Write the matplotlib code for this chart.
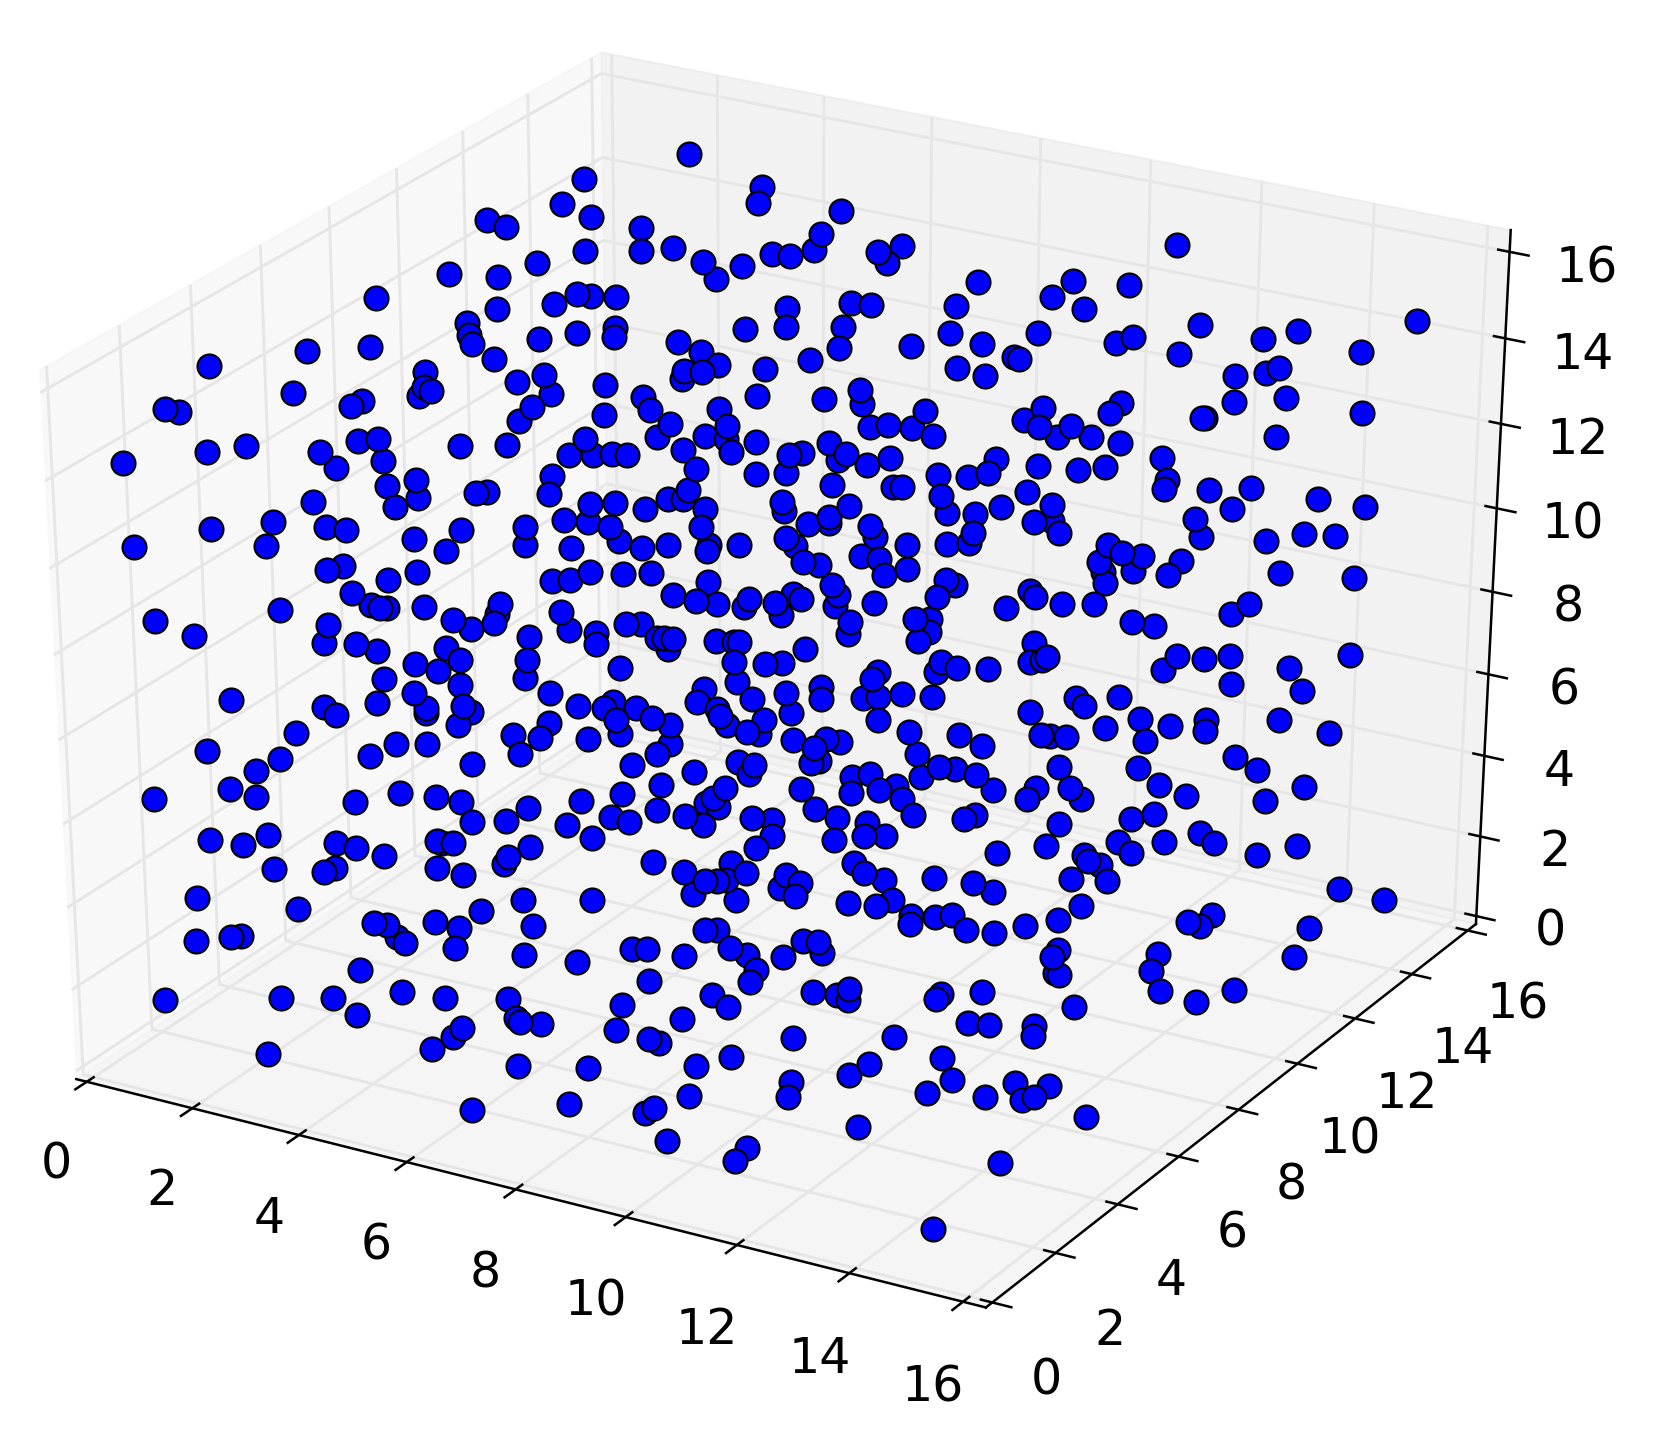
import matplotlib
matplotlib.use("Agg")
import matplotlib.pyplot as plt

x = [4.11,
     5.28,5.30,2.79,2.61,3.08,6.48,1.66,1.97,3.82,6.33,
     4.36,3.18,3.94,2.58,4.85,5.76,6.02,6.31,7.20,7.50,7.38,5.41,5.12,11.27,
     1.43,2.11,8.74,10.03,10.82,9.83,
     0.55,3.29,3.49,3.83,3.02,2.27,6.24,7.09,7.39,8.55,10.33,14.96,
     1.93,6.32,7.10,5.77,3.99,4.02,3.48,3.00,2.01,2.10,12.00,13.37,8.61,9.81,12.93,11.14,10.94,4.92,9.10,7.16,8.14,5.28,0.72,-0.13,11.85,14.35,
     2.48,6.83,5.59,-1.40,8.89,9.62,9.69,6.26,13.31,13.15,12.75,1.60,3.26,5.15,5.41,9.31,5.16,
     2.91,4.14,1.67,1.65,1.79,-0.11,7.67,3.44,6.28,7.22,4.73,13.56,12.87,0.89,0.76,4.89,7.77,5.83,11.32,11.22,10.27,14.68,-1.78,-1.57,8.67,
     3.26,4.28,3.14,5.24,10.07,10.75,12.55,12.51,8.00,8.24,8.57,10.32,10.61,11.08,8.91,11.51,13.61,
     5.78,6.03,6.08,6.51,5.12,4.14,1.05,1.30,2.47,3.11,-0.48,-0.98,0.57,7.52,-2.08,
     4.01,4.34,4.60,4.80,5.55,6.21,7.03,7.20,7.81,7.72,8.15,8.43,12.16,9.89,1.48,0.87,5.82,7.08,6.68,9.18,9.60,9.85,10.50,11.07,11.43,12.35,3.89,
     1.67,2.03,7.78,8.62,8.75,10.48,12.35,12.97,13.54,2.15,2.93,3.07,3.93,5.82,9.33,14.51,0.73,1.89,4.55,4.88,5.59,5.80,7.18,7.25,5.33,6.15,9.49,9.88,10.21,10.90,13.39,15.20,10.98,12.93,
     4.27,4.61,4.95,6.20,0.28,1.05,1.33,-0.53,2.92,3.78,7.64,7.90,8.12,8.50,7.93,10.73,11.14,14.51,14.94,9.96,14.02,13.10,7.41,8.63,6.39,
     -1.49,0.32,2.32,2.82,3.87,4.51,5.13,5.48,5.83,6.40,6.80,7.58,9.11,9.65,9.95,11.87,12.10,12.39,11.83,12.95,8.53,8.80,
     1.28,1.48,2.52,5.36,5.75,7.77,8.00,9.23,8.95,12.35,12.85,14.37,15.42,4.43,4.67,4.90,2.17,6.57,8.29,9.83,9.97,12.02,11.03,11.94,
     1.74,6.16,7.23,7.80,7.93,6.51,7.60,8.42,6.81,8.96,9.79,11.14,11.54,10.79,11.98,14.11,7.20,2.06,2.20,2.30,2.80,3.83,0.84,-0.82,4.71,7.75,8.44,13.91,
     3.27,3.84,3.85,3.55,1.58,5.66,5.87,4.91,8.73,9.60,9.80,12.60,12.92,4.40,5.30,-0.21,6.16,6.25,6.38,8.76,9.86,9.76,1.61,2.06,2.38,3.31,5.35,6.98,7.23,7.31,6.36,8.25,11.35,13.39,13.77,14.12,15.76,
     4.49,2.97,3.57,3.32,5.81,7.34,7.78,8.00,10.43,10.86,11.40,11.55,11.62,13.27,14.99,10.18,10.17,9.37,9.32,4.56,2.62,3.70,7.49,8.66,14.27,7.07,15.28,
     3.11,4.97,8.22,9.29,9.50,9.81,10.23,8.73,7.04,12.22,12.37,12.80,2.65,3.35,3.85,0.64,1.94,5.43,5.79,5.88,6.23,7.78,11.66,2.15,3.38,3.98,7.36,8.38,13.20,14.12,15.11,9.62,
     6.51,7.43,8.06,7.57,6.78,6.02,3.88,13.66,14.16,12.78,15.88,5.12,4.69,5.07,1.69,6.15,5.73,7.89,8.06,8.56,9.00,9.20,8.89,10.11,10.81,11.93,12.05,12.28,13.39,3.13,3.56,0.57,1.60,2.83,4.88,6.76,6.89,11.19,10.33,
     4.27,6.47,7.36,7.90,8.15,8.12,1.33,9.02,9.55,9.78,8.92,10.69,10.92,11.25,12.34,13.43,14.71,15.08,10.50,
     1.08,1.47,3.43,3.94,4.31,6.98,7.87,8.91,9.63,9.99,10.20,10.36,11.55,12.14,12.07,12.61,12.81,13.81,14.23,15.35,15.80,0.09,2.86,5.96,6.49,
     5.26,5.03,7.75,7.68,7.86,7.05,9.21,8.39,8.67,9.56,9.99,10.59,11.44,11.31,13.89,13.60,4.57,5.89,6.45,6.73,7.47,7.76,12.64,1.83,8.76,14.61,14.86,10.31,10.02,9.63,
     1.06,1.54,2.81,3.11,3.53,4.19,4.27,4.42,6.30,8.61,12.57,13.53,14.16,16.02,15.52,13.78,5.49,5.25,5.22,11.94,13.14,13.23,13.41,7.27,10.03,
     2.09,2.80,2.92,4.32,4.72,8.33,8.60,7.74,10.22,10.52,11.20,11.76,12.07,9.16,9.38,9.13,9.38,8.07,8.36,8.24,7.97,8.59,13.08,13.59,1.18,16.81,17.49,6.61,5.67,
     2.62,5.15,10.15,10.55,10.74,11.08,11.41,11.64,11.10,13.36,13.12,12.69,15.20,14.91,15.10,11.91,12.31,4.58,3.75,3.93,4.93,5.95,16.60,8.32,8.49,
     1.85,1.98,1.40,4.13,4.27,4.98,8.76,7.41,7.62,9.72,9.94,10.05,13.27,13.22,14.66,9.03,5.97,8.17,9.53,16.55,
     6.73,3.80,9.23,9.21,13.35,13.42,14.66,14.89,7.82,15.89,15.44,
     1.27,2.86,3.57,4.49,5.10,5.97,7.57,8.76,9.03,10.13,10.47,10.60,10.64,11.89,11.85,12.44,13.79,
     3.98,6.19,6.26,6.56,8.47,12.42,12.72,13.33,13.37,7.62,5.49,5.42,8.12,8.28,10.09,11.46,
     2.97,5.20,9.33,12.23,6.46,7.42,8.90,11.27,11.05,10.29,12.49,13.37,13.85,
     8.96,10.33,12.21,13.03,13.55,13.70,7.36,8.54,8.44,6.05,14.52,11.44,8.89,10.02,9.92,13.58,13.00]

y = [11.85,
     12.13,11.96,10.81,10.41,10.52,12.53,9.69,9.77,10.82,12.18,
     10.89,10.18,10.61,9.70,11.00,11.62,11.74,11.98,12.46,12.70,12.44,11.28,10.96,14.87,
     8.91,9.26,12.97,13.72,14.13,13.42,
     8.12,9.73,9.82,10.01,9.46,8.98,11.25,11.79,11.93,12.59,13.57,16.06,
     8.62,11.07,11.52,10.74,9.73,9.64,9.39,9.04,8.52,8.46,14.33,15.04,12.31,12.99,14.70,13.70,13.51,10.09,12.45,11.30,11.89,10.19,7.64,7.11,13.91,15.36,
     8.50,10.97,10.20,6.21,12.05,12.59,12.61,10.54,14.56,14.41,14.15,7.85,8.75,9.88,10.01,12.19,9.80,
     8.48,9.14,7.71,7.59,7.73,6.63,11.09,8.64,10.23,10.73,9.34,14.36,13.91,7.11,6.96,9.27,10.99,9.82,13.02,12.85,12.36,14.82,5.48,5.57,11.41,
     8.37,8.87,8.15,9.31,12.11,12.42,13.55,13.52,10.84,11.00,11.16,12.17,12.22,12.49,11.26,12.65,13.93,
     9.48,9.73,9.61,9.82,9.09,8.51,6.71,6.88,7.47,7.84,5.79,5.43,6.31,10.38,4.68,
     8.24,8.43,8.58,8.69,9.18,9.53,9.96,10.08,10.41,10.30,10.49,10.72,12.85,11.54,6.73,6.30,9.11,9.78,9.53,10.95,11.17,11.35,11.81,12.08,12.33,12.70,7.92,
     6.54,6.82,10.03,10.49,10.56,11.49,12.59,12.93,13.28,6.68,7.17,7.27,7.73,8.86,10.78,13.70,5.82,6.42,7.97,8.17,8.63,8.75,9.49,9.43,8.35,8.82,10.68,10.89,11.16,11.57,12.94,14.00,11.44,12.56,
     7.62,7.79,7.92,8.63,5.33,5.70,5.82,4.78,6.73,7.26,9.50,9.72,9.97,9.96,9.67,11.28,11.38,13.29,13.51,10.70,12.92,12.45,9.20,9.91,8.54,
     4.02,5.06,6.28,6.43,7.10,7.43,7.87,7.99,8.22,8.46,8.77,9.20,10.09,10.41,10.59,11.65,11.69,11.82,11.43,12.09,9.63,9.74,
     5.33,5.49,6.01,7.60,7.83,9.12,9.22,9.87,9.64,11.62,11.86,12.75,13.29,6.99,7.14,7.36,5.72,8.20,9.14,10.08,10.11,11.30,10.64,11.38,
     5.31,7.81,8.37,8.76,8.77,7.93,8.54,9.10,8.08,9.31,9.85,10.63,10.77,10.30,11.02,12.23,8.26,5.36,5.40,5.46,5.76,6.37,4.60,3.53,6.79,8.48,8.99,12.01,
     5.86,6.27,6.16,5.93,4.84,7.18,7.31,6.69,8.96,9.49,9.61,11.15,11.30,6.31,6.87,3.70,7.31,7.36,7.42,8.83,9.49,9.32,4.65,4.89,5.00,5.57,6.77,7.74,7.87,7.91,7.29,8.37,10.21,11.21,11.40,11.63,12.58,
     6.09,5.18,5.57,5.29,6.74,7.69,7.92,8.06,9.38,9.61,10.01,10.12,10.18,10.98,11.98,9.31,9.19,8.73,8.61,5.92,4.80,5.34,7.54,8.15,11.38,7.22,11.87,
     4.91,5.98,7.82,8.38,8.51,8.72,8.93,8.05,7.05,10.04,10.04,10.39,4.54,4.87,5.18,3.42,4.09,6.08,6.26,6.39,6.51,7.51,9.56,4.11,4.83,5.19,7.14,7.69,10.36,10.88,11.44,8.30,
     6.55,7.10,7.41,7.08,6.63,6.25,4.97,10.53,10.76,10.00,11.71,5.71,5.32,5.50,3.63,6.16,5.87,7.17,7.25,7.46,7.72,7.81,7.55,8.43,8.81,9.45,9.51,9.62,10.20,4.32,4.56,2.77,3.28,4.01,5.19,6.26,6.47,8.88,8.31,
     4.73,5.98,6.41,6.84,6.94,6.82,2.99,7.48,7.60,7.76,7.40,8.36,8.47,8.58,9.30,9.91,10.77,10.82,8.13,
     2.63,2.76,3.91,4.16,4.31,6.03,6.50,7.09,7.44,7.69,7.86,7.79,8.58,8.94,8.77,9.20,9.19,9.92,10.03,10.61,11.04,1.94,3.49,5.27,5.65,
     4.79,4.50,6.32,6.22,6.28,5.78,7.02,6.45,6.59,7.12,7.30,7.74,8.22,8.09,9.63,9.40,4.22,4.94,5.35,5.45,5.94,6.01,8.80,2.51,6.45,9.82,9.85,7.33,7.16,6.89,
     2.01,2.23,2.98,3.09,3.23,3.79,3.81,3.89,5.02,6.21,8.50,9.10,9.46,10.46,10.07,9.10,4.45,4.19,4.10,8.05,8.72,8.69,8.76,5.28,6.85,
     2.26,2.62,2.74,3.54,3.68,5.88,5.91,5.44,6.83,6.93,7.34,7.60,7.68,6.21,6.25,6.05,6.09,5.51,5.70,5.61,5.31,5.60,8.40,8.66,1.40,10.41,10.67,4.47,3.93,
     2.09,3.50,6.44,6.63,6.81,6.82,7.00,7.15,6.74,8.24,7.94,7.62,9.19,8.93,8.99,7.13,7.32,3.05,2.56,2.64,3.18,3.78,9.83,5.09,5.18,
     1.32,1.40,1.01,2.62,2.62,2.97,5.12,4.35,4.47,5.76,5.87,5.80,7.68,7.56,8.42,5.20,3.46,4.69,5.46,9.45,
     3.80,2.04,5.13,4.97,7.45,7.46,8.21,8.10,4.20,8.68,8.29,
     0.24,1.17,1.58,2.17,2.45,2.93,3.77,4.57,4.58,5.39,5.55,5.69,5.59,6.37,6.29,6.70,7.29,
     1.61,2.83,2.83,2.98,4.12,6.32,6.46,6.80,6.71,3.50,2.32,2.17,3.69,3.73,4.83,5.62,
     0.56,1.89,4.16,5.81,2.41,2.95,3.81,5.18,4.92,4.42,5.69,6.16,6.39,
     3.48,4.25,5.37,5.79,6.05,6.17,2.48,3.10,2.99,1.66,6.41,4.54,2.92,3.48,3.27,5.33,4.22]

z = [17.11,
     16.50,16.23,16.65,16.20,15.97,16.08,15.91,15.78,15.78,15.68,
     15.41,15.36,15.36,15.15,15.16,15.32,15.28,15.39,15.36,15.45,15.16,15.09,14.86,15.49,
     14.95,14.90,14.82,14.84,14.78,14.55,
     14.51,14.59,14.55,14.55,14.42,14.32,14.34,14.44,14.40,14.38,14.34,14.13,
     14.07,14.00,14.00,13.98,13.98,13.83,13.90,13.79,13.85,13.69,14.06,13.94,13.90,13.90,13.81,13.85,13.73,13.73,13.71,13.64,13.67,13.56,13.64,13.56,13.54,13.58,
     13.43,13.43,13.33,13.31,13.29,13.48,13.45,13.27,13.29,13.20,13.14,13.20,13.14,13.22,13.20,13.14,13.08,
     13.03,12.97,12.93,12.76,12.87,12.81,12.89,12.81,12.78,12.72,12.76,12.76,12.68,12.68,12.59,12.53,12.64,12.55,12.66,12.49,12.57,12.49,12.53,12.47,12.51,
     12.57,12.43,12.32,12.28,12.36,12.24,12.39,12.39,12.22,12.26,12.20,12.24,12.05,12.05,12.07,11.94,12.05,
     12.07,12.24,12.01,11.96,12.05,12.01,11.96,12.01,11.88,11.90,11.88,11.76,11.76,11.94,11.57,
     11.71,11.71,11.73,11.73,11.82,11.78,11.73,11.76,11.75,11.63,11.55,11.67,11.67,11.65,11.61,11.48,11.48,11.40,11.38,11.38,11.34,11.40,11.53,11.46,11.52,11.29,11.34,
     11.15,11.27,11.19,11.15,11.15,11.08,11.13,11.12,11.15,10.94,11.04,11.06,11.02,11.10,11.00,10.96,10.87,10.79,10.85,10.87,10.94,10.94,10.89,10.73,10.75,10.75,10.69,10.68,10.81,10.83,10.77,10.81,10.56,10.60,
     10.56,10.52,10.43,10.43,10.52,10.43,10.37,10.39,10.37,10.43,10.50,10.62,10.81,10.47,10.50,10.54,10.35,10.33,10.29,10.33,10.20,10.27,10.25,10.27,10.12,
     10.06,10.08,10.22,10.01,10.10,10.06,10.18,10.06,10.12,10.01,10.12,10.10,10.12,10.14,10.16,10.12,9.99,9.93,9.82,9.85,9.93,9.87,
     9.66,9.72,9.63,9.59,9.61,9.82,9.76,9.68,9.59,9.66,9.59,9.63,9.55,9.47,9.49,9.63,9.49,9.45,9.40,9.49,9.41,9.45,9.30,9.64,
     9.24,9.22,9.15,9.24,9.15,9.11,9.09,9.22,9.07,9.09,9.19,9.20,9.07,9.00,9.07,9.07,9.00,9.03,8.98,8.98,9.00,9.05,8.94,8.75,8.92,8.86,9.03,8.90,
     8.77,8.88,8.73,8.61,8.67,8.71,8.71,8.59,8.75,8.80,8.80,8.75,8.69,8.46,8.54,8.48,8.46,8.46,8.44,8.52,8.57,8.40,8.35,8.33,8.21,8.27,8.35,8.40,8.38,8.38,8.25,8.25,8.38,8.14,8.10,8.14,8.17,
     8.06,7.98,8.06,7.85,7.91,8.02,8.00,8.02,7.93,7.91,8.04,8.08,8.12,7.89,7.94,8.04,7.85,7.85,7.72,7.73,7.72,7.60,7.66,7.58,7.64,7.54,7.52,
     7.47,7.47,7.47,7.39,7.41,7.47,7.41,7.37,7.31,7.39,7.26,7.41,7.29,7.20,7.24,7.33,7.22,7.24,7.20,7.31,7.20,7.37,7.14,7.07,7.10,7.12,7.18,7.12,7.03,7.01,7.01,6.99,
     7.03,7.07,6.99,6.91,6.91,6.99,6.89,6.89,6.82,6.86,6.78,6.93,6.72,6.66,6.76,6.74,6.65,6.78,6.74,6.63,6.65,6.61,6.49,6.78,6.74,6.74,6.72,6.70,6.63,6.55,6.55,6.42,6.28,6.34,6.38,6.38,6.57,6.53,6.40,
     6.19,6.19,6.07,6.24,6.19,6.03,6.07,6.26,5.98,6.03,6.23,6.17,6.13,6.02,6.17,6.15,6.34,6.11,5.98,
     5.75,5.61,5.67,5.61,5.52,5.82,5.77,5.77,5.69,5.75,5.82,5.58,5.75,5.79,5.60,5.79,5.58,5.84,5.65,5.56,5.82,5.56,5.52,5.54,5.67,
     5.42,5.17,5.60,5.50,5.44,5.38,5.40,5.25,5.21,5.25,5.16,5.31,5.31,5.23,5.33,5.23,5.16,5.10,5.25,5.16,5.27,5.12,5.14,4.93,4.93,4.98,4.81,4.93,4.93,4.85,
     4.83,4.75,4.79,4.70,4.56,4.83,4.79,4.79,4.89,4.70,4.75,4.83,4.83,4.75,4.60,4.62,4.72,4.54,4.41,4.62,4.60,4.49,4.41,4.45,4.43,
     4.32,4.26,4.33,4.33,4.22,4.43,4.26,4.28,4.26,4.14,4.18,4.09,3.93,4.22,4.09,3.99,3.86,4.11,4.14,4.11,3.88,3.78,4.16,4.12,3.80,3.99,3.80,3.78,3.76,
     3.61,3.57,3.72,3.69,3.78,3.49,3.47,3.51,3.36,3.67,3.44,3.32,3.53,3.40,3.32,3.25,3.19,3.38,3.36,3.32,3.26,3.32,3.30,3.25,3.23,
     3.11,3.11,3.04,3.11,3.00,2.92,2.92,2.90,2.90,3.05,3.04,2.83,2.90,2.77,2.83,2.79,2.79,2.77,2.77,2.77,
     2.67,2.52,2.52,2.31,2.48,2.44,2.52,2.16,2.33,2.18,1.97,
     1.97,2.02,2.02,2.12,2.02,2.00,1.89,2.08,1.87,2.14,2.08,2.20,2.00,2.10,2.02,2.14,1.87,
     1.72,1.66,1.60,1.56,1.66,1.58,1.55,1.53,1.37,1.45,1.49,1.32,1.30,1.22,1.32,1.34,
     1.01,1.11,0.97,0.97,0.80,0.78,0.82,0.86,0.65,0.53,0.57,0.51,0.46,
     0.29,0.27,0.34,0.27,0.21,0.27,0.13,0.06,-0.02,0.02,-0.08,-0.27,-0.52,-0.65,-0.88,-0.92,-2.08]

ticks = [0, 2, 4, 6, 8, 10, 12, 14, 16]

fig = plt.figure(figsize=(1670/150, 1445/150), dpi=150)
ax = fig.add_subplot(111, projection='3d')
# old mplot3d stretched the cube with the axes box, keep that
ax.apply_aspect = lambda position=None: None
ax.set_position([-0.126, 0.0123, 1.163, 1.036])
ax.set_box_aspect((1, 1, 1), zoom=0.909)
ax.view_init(30, -60)
ax.scatter(x, y, z, s=133, c='b', edgecolors='k', linewidths=1, depthshade=False)
ax.set_xlim(-0.2, 16.4)
ax.set_ylim(-0.2, 16.3)
ax.set_zlim(-0.2, 16.5)
ax.set_xticks(ticks)
ax.set_yticks(ticks)
ax.set_zticks(ticks)
ax.tick_params(axis='x', labelsize=23.5, pad=16)
ax.tick_params(axis='y', labelsize=23.5, pad=17)
ax.tick_params(axis='z', labelsize=23.5, pad=15.5)
for a in (ax.xaxis, ax.yaxis, ax.zaxis):
    a.line.set_linewidth(1.2)
    a._axinfo['grid']['color'] = (0.9, 0.9, 0.9, 1)
    a._axinfo['grid']['linewidth'] = 1.4
    a._axinfo['tick']['linewidth'] = {True: 1.2, False: 1.2}
    a._axinfo['tick']['inward_factor'] = 0.25
    a._axinfo['tick']['outward_factor'] = 0.15
fig.savefig('out.png', dpi=150)
